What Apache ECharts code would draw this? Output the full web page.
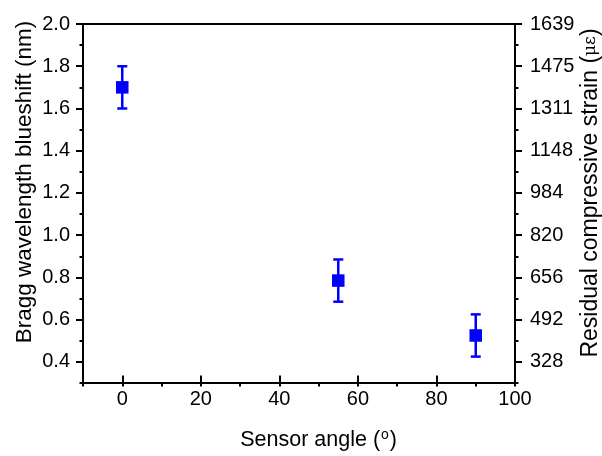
<!DOCTYPE html>
<html>
<head>
<meta charset="utf-8">
<script src="https://cdn.jsdelivr.net/npm/echarts@6/dist/echarts.min.js"></script>
<style>html,body{margin:0;padding:0;background:#fff;}#c{width:602px;height:456px;}</style>
</head>
<body>
<div id="c"></div>
<script>
// ---- data ----
var angles = [0, 55, 90];
var blueshift = [1.70, 0.785, 0.525];
var errors = [0.10, 0.10, 0.10];
var leftTickValues = [0.4, 0.6, 0.8, 1.0, 1.2, 1.4, 1.6, 1.8, 2.0];
var rightTickLabels = ['328', '492', '656', '820', '984', '1148', '1311', '1475', '1639'];
var xTickLabels = ['0', '20', '40', '60', '80', '100'];
var xTitle = 'Sensor angle (';
var yTitleLeft = 'Bragg wavelength blueshift (nm)';
var yTitleRight = 'Residual compressive strain (';

// ---- layout ----
var FONT = 'Liberation Sans, Arial, sans-serif';
var TICK_FS = 20, TITLE_FS = 21.5;
var gl = 83, gr = 87, gt = 24, gb = 73;
var W = 602, H = 456;
var plotW = W - gl - gr, plotH = H - gt - gb;
var xMin = -10, xMax = 100, yMin = 0.3, yMax = 2.0;
var yMajMin = 0.4;
var g1Height = plotH * (yMax - yMajMin) / (yMax - yMin);
var g2Left = gl + plotW * (0 - xMin) / (xMax - xMin);

var lineStyle = {color: '#000', width: 2};
var blue = '#0000ff';

var pts = angles.map(function (a, i) { return [a, blueshift[i], errors[i]]; });

var option = {
  animation: false,
  backgroundColor: '#fff',
  grid: [
    {left: gl, right: gr, top: gt, bottom: gb},
    {left: gl, right: gr, top: gt, height: g1Height},
    {left: g2Left, right: gr, top: gt, bottom: gb}
  ],
  xAxis: [
    {gridIndex: 0, type: 'value', min: xMin, max: xMax, interval: 10, position: 'bottom',
     axisLine: {show: true, lineStyle: lineStyle, onZero: false},
     axisTick: {show: true, length: 3.5, lineStyle: lineStyle},
     axisLabel: {show: false}, splitLine: {show: false}},
    {gridIndex: 0, type: 'value', min: xMin, max: xMax, position: 'top',
     axisLine: {show: true, lineStyle: lineStyle, onZero: false},
     axisTick: {show: false}, axisLabel: {show: false}, splitLine: {show: false}},
    {gridIndex: 1, type: 'value', min: xMin, max: xMax, show: false},
    {gridIndex: 2, type: 'value', min: 0, max: 100, interval: 20, position: 'bottom',
     axisLine: {show: false, onZero: false},
     axisTick: {show: true, length: 6.5, lineStyle: lineStyle},
     axisLabel: {show: true, color: '#000', fontFamily: FONT, fontSize: TICK_FS, margin: 14,
       formatter: function (v, i) { return xTickLabels[i] !== undefined ? xTickLabels[i] : ''; }},
     splitLine: {show: false},
     name: '{a|' + xTitle + '}{s|o}{a|)}', nameLocation: 'middle', nameGap: 53,
     nameTextStyle: {rich: {
       a: {fontFamily: FONT, fontSize: TITLE_FS, color: '#000'},
       s: {fontFamily: FONT, fontSize: 14, color: '#000', verticalAlign: 'top', padding: [0, 1, 9, 1]}
     }}}
  ],
  yAxis: [
    {gridIndex: 0, type: 'value', min: yMin, max: yMax, interval: 0.1, position: 'left',
     axisLine: {show: true, lineStyle: lineStyle, onZero: false},
     axisTick: {show: true, length: 3.5, lineStyle: lineStyle},
     axisLabel: {show: false}, splitLine: {show: false}},
    {gridIndex: 0, type: 'value', min: yMin, max: yMax, interval: 0.1, position: 'right',
     axisLine: {show: true, lineStyle: lineStyle, onZero: false},
     axisTick: {show: true, length: 3.5, lineStyle: lineStyle},
     axisLabel: {show: false}, splitLine: {show: false}},
    {gridIndex: 1, type: 'value', min: yMajMin, max: yMax, interval: 0.2, position: 'left',
     axisLine: {show: false, onZero: false},
     axisTick: {show: true, length: 7, lineStyle: lineStyle},
     axisLabel: {show: true, color: '#000', fontFamily: FONT, fontSize: TICK_FS, margin: 13,
       formatter: function (v, i) { return leftTickValues[i] !== undefined ? leftTickValues[i].toFixed(1) : ''; }},
     splitLine: {show: false}},
    {gridIndex: 1, type: 'value', min: yMajMin, max: yMax, interval: 0.2, position: 'right',
     axisLine: {show: false, onZero: false},
     axisTick: {show: true, length: 7, lineStyle: lineStyle},
     axisLabel: {show: true, color: '#000', fontFamily: FONT, fontSize: TICK_FS, margin: 15,
       formatter: function (v, i) { return rightTickLabels[i] !== undefined ? rightTickLabels[i] : ''; }},
     splitLine: {show: false}},
    {gridIndex: 2, type: 'value', min: yMin, max: yMax, show: false}
  ],
  graphic: [
    {type: 'text', x: 25, y: 182, rotation: Math.PI / 2,
     style: {text: yTitleLeft, fontFamily: FONT, fontSize: 22.5, fill: '#000', align: 'center', verticalAlign: 'middle'}},
    {type: 'text', x: 591, y: 193, rotation: Math.PI / 2,
     style: {text: '{a|' + yTitleRight + '}{b|\u03bc\u03b5}{a|)}', align: 'center', verticalAlign: 'middle',
       rich: {a: {fontFamily: FONT, fontSize: 23, fill: '#000'},
              b: {fontFamily: 'DejaVu Serif, serif', fontSize: 17, fill: '#000'}}}}
  ],
  series: [
    {type: 'custom', xAxisIndex: 0, yAxisIndex: 0, data: pts, z: 3,
     renderItem: function (params, api) {
       var x = api.value(0), y = api.value(1), e = api.value(2);
       var top = api.coord([x, y + e]);
       var bot = api.coord([x, y - e]);
       var hw = 5;
       var st = {stroke: blue, lineWidth: 2.5};
       return {type: 'group', children: [
         {type: 'line', shape: {x1: top[0], y1: top[1], x2: bot[0], y2: bot[1]}, style: st},
         {type: 'line', shape: {x1: top[0] - hw, y1: top[1], x2: top[0] + hw, y2: top[1]}, style: st},
         {type: 'line', shape: {x1: bot[0] - hw, y1: bot[1], x2: bot[0] + hw, y2: bot[1]}, style: st}
       ]};
     }},
    {type: 'scatter', xAxisIndex: 0, yAxisIndex: 0, data: pts.map(function (p) { return [p[0], p[1]]; }),
     symbol: 'rect', symbolSize: 12.5, itemStyle: {color: blue, opacity: 1}, z: 4}
  ]
};
var chart = echarts.init(document.getElementById('c'), null, {renderer: 'canvas'});
chart.setOption(option);
</script>
</body>
</html>
